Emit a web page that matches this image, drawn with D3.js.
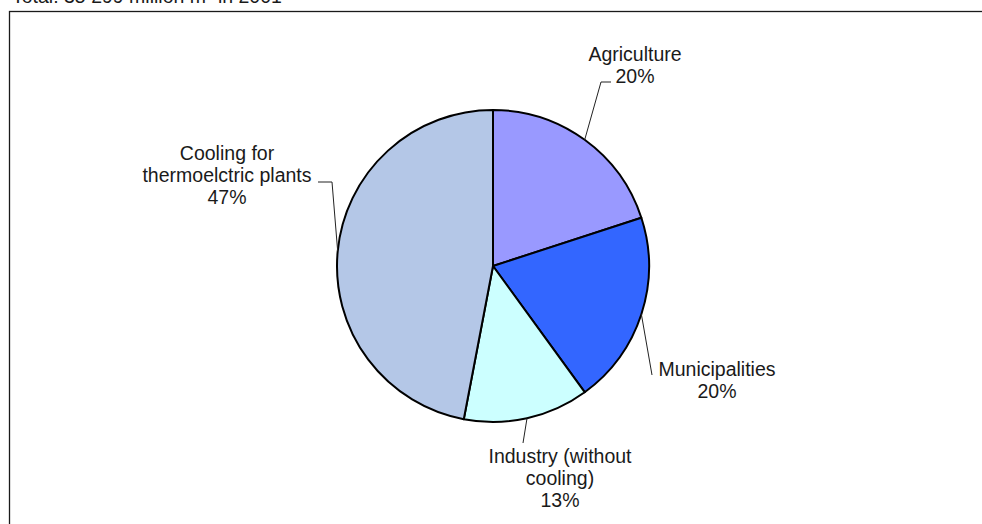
<!DOCTYPE html>
<html>
<head>
<meta charset="utf-8">
<script src="https://cdn.jsdelivr.net/npm/d3@7/dist/d3.min.js"></script>
<style>
  html, body { margin: 0; padding: 0; background: #fff; }
  svg { display: block; }
  text { font-family: "Liberation Sans", Arial, sans-serif; fill: #1a1a1a; }
</style>
</head>
<body>
<svg id="chart" width="982" height="524"></svg>
<script>
// Water abstraction by use
const categories = ["Agriculture", "Municipalities", "Industry (without cooling)", "Cooling for thermoelctric plants"];
const shares = [20, 20, 13, 47];
const labelLines = [["Agriculture"], ["Municipalities"], ["Industry (without", "cooling)"], ["Cooling for", "thermoelctric plants"]];
const colors = ["#9999ff", "#3366ff", "#ccffff", "#b4c7e7"];
const titleText = "Total: 35 299 million m\u00b3 in 2001";

// Label placement: text centre, first baseline, and leader bend/end points
const labelLayout = [
  { x: 635, y: 61, bend: [601, 82], end: [611, 82] },
  { x: 717, y: 376, bend: null, end: [652, 375] },
  { x: 560, y: 463, bend: null, end: [523, 443] },
  { x: 227, y: 160, bend: [332, 182], end: [318, 182] }
];

const svg = d3.select("#chart");
const cx = 493, cy = 266, radius = 156, lineH = 22;

// Plot area frame
svg.append("rect")
  .attr("x", 9.5).attr("y", 11.5)
  .attr("width", 1000).attr("height", 600)
  .attr("fill", "#fff").attr("stroke", "#1a1a1a").attr("stroke-width", 1.3);

// Title, mostly above the visible area
svg.append("text")
  .attr("x", 12).attr("y", 3)
  .style("font-size", "19.5px")
  .text(titleText);

const pie = d3.pie().sort(null).value(d => d)(shares);
const arc = d3.arc().innerRadius(0).outerRadius(radius);

const g = svg.append("g").attr("transform", `translate(${cx},${cy})`);

g.selectAll("path.slice")
  .data(pie)
  .join("path")
  .attr("class", "slice")
  .attr("d", arc)
  .attr("fill", (d, i) => colors[i])
  .attr("stroke", "#000")
  .attr("stroke-width", 2)
  .attr("stroke-linejoin", "round");

// Leader lines from each slice edge midpoint to its label
pie.forEach((d, i) => {
  const mid = (d.startAngle + d.endAngle) / 2;
  const sx = cx + radius * Math.sin(mid);
  const sy = cy - radius * Math.cos(mid);
  const L = labelLayout[i];
  const pts = [[sx, sy]];
  if (L.bend) pts.push(L.bend);
  pts.push(L.end);
  svg.append("path")
    .attr("d", d3.line()(pts))
    .attr("fill", "none")
    .attr("stroke", "#222")
    .attr("stroke-width", 1);
});

// Labels: name lines followed by the percentage
pie.forEach((d, i) => {
  const L = labelLayout[i];
  const lines = labelLines[i].concat([d3.format(".0f")(shares[i]) + "%"]);
  const t = svg.append("text")
    .attr("text-anchor", "middle")
    .style("font-size", "19.5px");
  lines.forEach((s, k) => {
    t.append("tspan").attr("x", L.x).attr("y", L.y + k * lineH).text(s);
  });
});
</script>
</body>
</html>
